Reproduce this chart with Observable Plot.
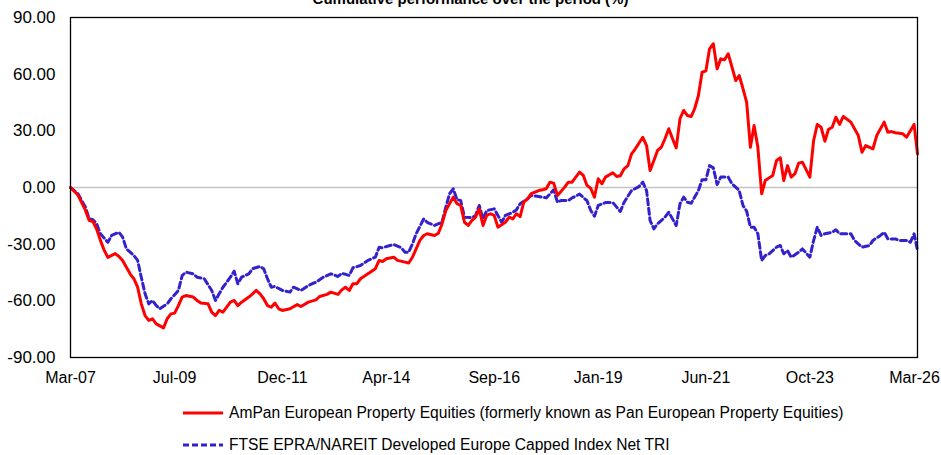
<!DOCTYPE html>
<html>
<head>
<meta charset="utf-8">
<script src="https://cdn.jsdelivr.net/npm/d3@7"></script>
<script src="https://cdn.jsdelivr.net/npm/@observablehq/plot@0.6"></script>
<style>
  html, body { margin: 0; padding: 0; background: #fff; }
  body { width: 941px; height: 455px; position: relative; overflow: hidden; font-family: "Liberation Sans", Arial, sans-serif; }
  #title { position: absolute; left: 0; width: 941px; top: -9px; text-align: center; font-weight: bold; font-size: 15px; line-height: 15px; color: #000; }
  #chart { position: absolute; left: 0; top: 0; }
  .legend { position: absolute; left: 183px; font-size: 15.6px; color: #000; display: flex; align-items: center; }
  .legend svg { margin-right: 6px; }
</style>
</head>
<body>
<div id="title">Cumulative performance over the period (%)</div>
<div id="chart"></div>
<div class="legend" id="leg1" style="top:404px"></div>
<div class="legend" id="leg2" style="top:436px"></div>
<script>
// Series names
const seriesNames = [
  "AmPan European Property Equities (formerly known as Pan European Property Equities)",
  "FTSE EPRA/NAREIT Developed Europe Capped Index Net TRI"
];

// AmPan European Property Equities — cumulative performance (%)
const ampanDates = ["2007-03","2007-05","2007-07","2007-08","2007-09","2007-10","2007-11","2007-12","2008-01","2008-03","2008-04","2008-05","2008-07","2008-08","2008-09","2008-10","2008-11","2008-12","2009-01","2009-02","2009-04","2009-05","2009-06","2009-07","2009-08","2009-09","2009-10","2009-12","2010-01","2010-02","2010-04","2010-05","2010-06","2010-07","2010-08","2010-10","2010-11","2010-12","2011-01","2011-03","2011-04","2011-05","2011-06","2011-07","2011-08","2011-09","2011-10","2011-11","2011-12","2012-02","2012-04","2012-05","2012-07","2012-09","2012-10","2012-12","2013-01","2013-03","2013-04","2013-05","2013-06","2013-07","2013-08","2013-09","2013-11","2014-01","2014-02","2014-03","2014-04","2014-06","2014-07","2014-09","2014-10","2014-11","2014-12","2015-01","2015-02","2015-03","2015-05","2015-06","2015-07","2015-08","2015-10","2015-11","2015-12","2016-01","2016-02","2016-03","2016-04","2016-05","2016-06","2016-07","2016-08","2016-09","2016-10","2016-12","2017-01","2017-02","2017-03","2017-04","2017-05","2017-06","2017-07","2017-09","2017-10","2017-11","2017-12","2018-01","2018-02","2018-04","2018-05","2018-06","2018-07","2018-08","2018-09","2018-10","2018-11","2018-12","2019-01","2019-02","2019-03","2019-05","2019-06","2019-07","2019-08","2019-09","2019-10","2019-11","2020-01","2020-02","2020-03","2020-04","2020-05","2020-06","2020-07","2020-08","2020-09","2020-10","2020-11","2020-12","2021-01","2021-02","2021-03","2021-04","2021-05","2021-06","2021-07","2021-08","2021-09","2021-10","2021-11","2021-12","2022-01","2022-02","2022-03","2022-04","2022-05","2022-06","2022-07","2022-08","2022-09","2022-10","2022-11","2022-12","2023-01","2023-02","2023-03","2023-04","2023-05","2023-06","2023-07","2023-08","2023-10","2023-11","2023-12","2024-01","2024-02","2024-03","2024-04","2024-05","2024-06","2024-07","2024-09","2024-11","2024-12","2025-01","2025-03","2025-04","2025-06","2025-07","2025-08","2025-09","2025-11","2025-12","2026-02","2026-03"];
const ampanValues = [0,-4,-12,-17.5,-18,-22,-28,-33,-37,-35,-36.5,-38.6,-45.7,-48.3,-52.8,-61.6,-67.8,-70.4,-69.5,-72.2,-74.3,-69.5,-66.9,-66.5,-62.5,-58,-57.2,-58,-59.8,-61.2,-61.6,-66,-67.8,-65,-66,-60.7,-59.8,-62.5,-60.7,-58,-56.3,-54.5,-56.3,-58.9,-62.5,-63.4,-61.2,-64.2,-65.1,-64.2,-62,-63,-60.7,-59.5,-57.7,-56.6,-55.4,-56.6,-54.2,-52.8,-54.5,-51,-51,-48.3,-45.7,-43,-38.6,-39.2,-37.7,-36.9,-38.6,-39.5,-40,-36.9,-32.5,-28,-25.4,-24.5,-25.4,-24.2,-19.3,-12.2,-5.1,-8.6,-9.5,-18.4,-20.1,-17.5,-15.7,-11.3,-20.1,-14.8,-13.9,-14.8,-21,-18.4,-15.7,-16.6,-13.9,-15.4,-7.8,-6,-3.3,-1.6,-1.2,-0.7,2.8,2.3,-4.2,0.2,2.8,2.8,5.5,8.1,6.4,1.1,-0.5,-5.1,4.6,2,5.5,7.8,5.8,6.2,9.9,11.6,17.8,20.5,26.6,22.2,9,14.3,19.6,21.3,25.8,31.1,25.8,21,36.4,40.8,38.1,37.6,41.7,48.7,61,61.7,73.4,76.1,62.8,68.1,67.6,70.8,63.7,56.6,59.3,52.3,45.2,21.3,32.8,21.3,-3.3,3.7,5.1,6.4,14.3,15.7,3.7,11.6,5.5,7.3,12.9,13.4,5.5,24.9,33.4,31.9,24.5,30.7,31.9,37.2,33.4,37.6,34.6,27.5,18.7,22.2,20.5,27.5,34.6,29.3,29.6,29,28.4,26.6,33.4,17.8];

// FTSE EPRA/NAREIT Developed Europe Capped Index Net TRI — cumulative performance (%)
const ftseDates = ["2007-03","2007-05","2007-07","2007-08","2007-09","2007-10","2007-11","2008-01","2008-02","2008-04","2008-05","2008-06","2008-08","2008-09","2008-10","2008-11","2008-12","2009-01","2009-02","2009-03","2009-05","2009-06","2009-08","2009-09","2009-10","2009-12","2010-01","2010-03","2010-05","2010-06","2010-07","2010-08","2010-10","2010-11","2010-12","2011-01","2011-03","2011-04","2011-06","2011-07","2011-08","2011-09","2011-10","2011-12","2012-02","2012-03","2012-05","2012-07","2012-09","2012-11","2013-01","2013-03","2013-04","2013-06","2013-07","2013-09","2013-11","2014-01","2014-02","2014-03","2014-05","2014-06","2014-08","2014-09","2014-10","2014-11","2014-12","2015-02","2015-03","2015-05","2015-07","2015-08","2015-09","2015-10","2015-11","2015-12","2016-01","2016-03","2016-04","2016-05","2016-06","2016-07","2016-09","2016-10","2016-11","2016-12","2017-02","2017-03","2017-04","2017-06","2017-07","2017-09","2017-11","2018-01","2018-02","2018-03","2018-05","2018-06","2018-08","2018-10","2018-11","2018-12","2019-01","2019-03","2019-05","2019-06","2019-07","2019-08","2019-10","2019-12","2020-01","2020-02","2020-03","2020-04","2020-05","2020-07","2020-08","2020-10","2020-11","2020-12","2021-01","2021-02","2021-04","2021-05","2021-06","2021-07","2021-08","2021-09","2021-10","2021-12","2022-01","2022-03","2022-04","2022-05","2022-06","2022-07","2022-08","2022-09","2022-10","2022-11","2023-01","2023-02","2023-03","2023-04","2023-05","2023-07","2023-08","2023-10","2023-11","2023-12","2024-01","2024-02","2024-04","2024-05","2024-06","2024-08","2024-09","2024-10","2024-12","2025-02","2025-03","2025-05","2025-06","2025-07","2025-09","2025-10","2025-12","2026-01","2026-02","2026-03"];
const ftseValues = [0,-3.3,-10.4,-16.6,-17.1,-19.2,-24.5,-29,-25.4,-23.7,-26.3,-32.5,-36,-38.6,-47.5,-56.3,-61.6,-59.8,-62.5,-64.2,-61.6,-58.9,-54.5,-46.6,-44.8,-45.7,-47.5,-48.3,-54.5,-59.8,-56.3,-52.8,-47.5,-44.3,-51,-47.5,-45.7,-43,-41.8,-43,-48.3,-52.8,-52.4,-54.5,-55.4,-52.8,-54.5,-51.9,-50.1,-47.5,-45.7,-47.1,-45.4,-46.6,-42.5,-41.3,-38.6,-36.9,-31.6,-31.9,-30.7,-30.2,-31.9,-34.3,-34.3,-29.8,-24.5,-16.6,-18.4,-20.1,-18.4,-10.4,-3.3,-0.7,-6.5,-6.9,-15.7,-16,-14.8,-9.5,-16.6,-12.2,-11.3,-14.8,-18.4,-14.8,-13.1,-11.9,-8.6,-6,-4.2,-4.8,-5.5,-1.2,-7.8,-6.9,-6.9,-5.5,-3.5,-7,-12.2,-15.2,-9.5,-8,-8,-10.4,-12.7,-7.8,-1.6,0.5,2.8,-1.6,-17.5,-21.9,-19.2,-15.7,-13.1,-20.1,-8.6,-5.1,-7.8,-8.3,-1.6,4.1,4.1,11.6,10.4,1.6,5.5,5.5,2,-1.6,-9.5,-12.5,-21,-21,-24.5,-38.6,-36,-35.1,-31.6,-30.7,-35.1,-33.4,-36.9,-34.3,-32.5,-36.9,-28,-21,-25.4,-24.5,-23.7,-22.4,-24.5,-24.5,-24.5,-28,-31.6,-30.7,-28,-25.4,-23.7,-27.2,-27.2,-28,-28,-29,-24.5,-33.4];

// Axis tick labels
const xTickLabels = ["Mar-07","Jul-09","Dec-11","Apr-14","Sep-16","Jan-19","Jun-21","Oct-23","Mar-26"];
const yTicks = [-90,-60,-30,0,30,60,90];

const colors = ["#ff0000", "#3322cc"];

const parseYM = d3.utcParse("%Y-%m");
const parseTick = d3.utcParse("%b-%y");
const ampan = ampanDates.map((d, i) => ({date: parseYM(d), value: ampanValues[i]}));
const ftse = ftseDates.map((d, i) => ({date: parseYM(d), value: ftseValues[i]}));
const tickDates = xTickLabels.map(parseTick);

const chart = Plot.plot({
  width: 941,
  height: 392,
  marginLeft: 70,
  marginRight: 24,
  marginTop: 17,
  marginBottom: 35,
  style: {fontFamily: "'Liberation Sans', Arial, sans-serif", fontSize: "17px", color: "#000", background: "transparent", overflow: "visible"},
  x: {type: "utc", domain: [tickDates[0], tickDates[tickDates.length - 1]], ticks: tickDates, tickFormat: d3.utcFormat("%b-%y"), tickSize: 0, tickPadding: 14, label: null},
  y: {domain: [-90, 90], ticks: yTicks, tickFormat: d => d.toFixed(2), tickSize: 0, tickPadding: 15, label: null},
  marks: [
    Plot.ruleY([0], {stroke: "#c4c4c4", strokeWidth: 1.5}),
    Plot.line(ftse, {x: "date", y: "value", stroke: colors[1], strokeWidth: 3, strokeDasharray: "6,3.5", strokeLinejoin: "round"}),
    Plot.line(ampan, {x: "date", y: "value", stroke: colors[0], strokeWidth: 3, strokeLinejoin: "round"}),
    Plot.frame({stroke: "#000", strokeWidth: 1.3})
  ]
});
// x tick labels slightly smaller; nudge the last one so it stays inside the window
const xLabels = d3.select(chart).selectAll("[aria-label='x-axis tick label'] text").style("font-size", "16px");
const lastLabel = xLabels.filter((d, i, nodes) => i === nodes.length - 1);
lastLabel.attr("dx", -3);
document.getElementById("chart").appendChild(chart);

function legendItem(id, name, color, dash) {
  const el = document.getElementById(id);
  const sw = d3.create("svg").attr("width", 40).attr("height", 10);
  sw.append("line").attr("x1", 0).attr("x2", 40).attr("y1", 5).attr("y2", 5)
    .attr("stroke", color).attr("stroke-width", 3).attr("stroke-dasharray", dash);
  el.appendChild(sw.node());
  const span = document.createElement("span");
  span.textContent = name;
  el.appendChild(span);
}
legendItem("leg1", seriesNames[0], colors[0], null);
legendItem("leg2", seriesNames[1], colors[1], "6,3");
</script>
</body>
</html>
